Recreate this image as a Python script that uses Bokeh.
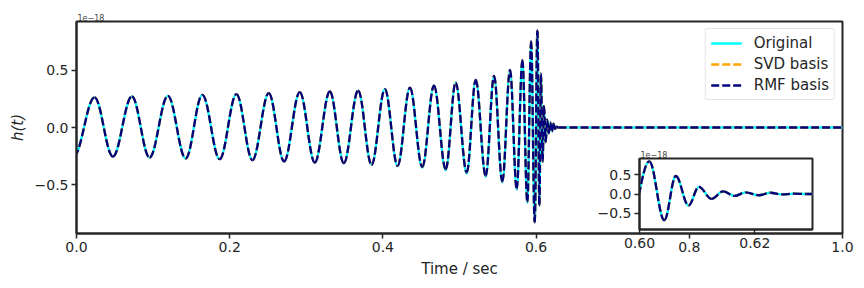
import numpy as np
from bokeh.plotting import figure
from bokeh.models import Range1d, FixedTicker, ColumnDataSource
from bokeh.embed import file_html
from bokeh.resources import INLINE

# ---- data (time in s, strain h(t) in units of 1e-18) ----
# successive extrema (peaks / troughs) of the waveform
ext_t = [-0.0035, 0.0235, 0.0475, 0.0723, 0.0954, 0.1193, 0.1425, 0.1643, 0.1869,
         0.2088, 0.2297, 0.2510, 0.2710, 0.2915, 0.3111, 0.3307, 0.3490, 0.3677,
         0.3852, 0.4026, 0.4192, 0.4353, 0.4514, 0.4667, 0.4820, 0.4950, 0.5094,
         0.5212, 0.5342, 0.5451, 0.5559, 0.5660, 0.5747, 0.5821, 0.5886, 0.5935,
         0.5982, 0.6017, 0.6043, 0.6063, 0.6085, 0.6103, 0.6125, 0.6145, 0.6165,
         0.6184, 0.6207, 0.6227, 0.6247, 0.6268, 0.6290, 1.0000]
# reconstructions (SVD basis and RMF basis coincide at this resolution)
basis_h = [-0.250, 0.263, -0.254, 0.271, -0.263, 0.277, -0.271, 0.286, -0.277,
           0.292, -0.286, 0.301, -0.297, 0.309, -0.306, 0.315, -0.312, 0.323,
           -0.326, 0.335, -0.335, 0.349, -0.344, 0.367, -0.364, 0.393, -0.393,
           0.416, -0.422, 0.451, -0.471, 0.503, -0.537, 0.589, -0.653, 0.754,
           -0.830, 0.850, -0.685, 0.470, -0.300, 0.187, -0.128, 0.069, -0.051,
           0.044, -0.033, 0.033, -0.012, 0.008, 0.000, 0.000]
svd_h = list(basis_h)
rmf_h = list(basis_h)
orig_h = [-0.250, 0.263, -0.254, 0.271, -0.263, 0.277, -0.271, 0.286, -0.277,
          0.292, -0.286, 0.301, -0.297, 0.309, -0.306, 0.315, -0.312, 0.323,
          -0.326, 0.335, -0.337, 0.349, -0.352, 0.367, -0.374, 0.393, -0.404,
          0.416, -0.432, 0.451, -0.481, 0.503, -0.545, 0.589, -0.660, 0.754,
          -0.830, 0.850, -0.685, 0.470, -0.300, 0.187, -0.128, 0.069, -0.051,
          0.044, -0.033, 0.033, -0.012, 0.008, 0.000, 0.000]

x_ticks = [0.0, 0.2, 0.4, 0.6, 0.8, 1.0]
x_tick_labels = ["0.0", "0.2", "0.4", "0.6", "0.8", "1.0"]
y_ticks = [-0.5, 0.0, 0.5]
y_tick_labels = ["\u22120.5", "0.0", "0.5"]
inset_x_ticks = [0.60, 0.62]
inset_x_tick_labels = ["0.60", "0.62"]
series_names = ["Original", "SVD basis", "RMF basis"]
scale_label = "1e\u221218"

TXT = "#262626"
K = 0.3634  # cubic-Bezier handle fraction giving a cosine-like arc between extrema


def wave_source(t, h):
    t = np.asarray(t, dtype=float)
    h = np.asarray(h, dtype=float)
    dt = np.diff(t)
    return ColumnDataSource(dict(
        x0=t[:-1], y0=h[:-1], x1=t[1:], y1=h[1:],
        cx0=t[:-1] + K * dt, cy0=h[:-1], cx1=t[1:] - K * dt, cy1=h[1:]))


def style_axes(fig, xt, xl, yt, yl):
    fig.xaxis.ticker = FixedTicker(ticks=xt)
    fig.yaxis.ticker = FixedTicker(ticks=yt)
    fig.xaxis.major_label_overrides = {v: s for v, s in zip(xt, xl)}
    fig.yaxis.major_label_overrides = {v: s for v, s in zip(yt, yl)}
    for ax in (fig.xaxis, fig.yaxis):
        ax.major_label_text_font = "DejaVu Sans"
        ax.major_label_text_font_size = "14px"
        ax.major_label_text_color = TXT
        ax.major_tick_out = 5
        ax.major_tick_in = 0
        ax.minor_tick_line_color = None
        ax.major_tick_line_color = TXT
        ax.major_tick_line_width = 1.5
        ax.axis_line_color = TXT
        ax.axis_line_width = 2
        ax.major_label_standoff = 3
    fig.grid.visible = False
    fig.outline_line_color = TXT
    fig.outline_line_width = 2
    fig.title.text = scale_label
    fig.title.align = "left"
    fig.title.text_font = "DejaVu Sans"
    fig.title.text_font_size = "8px"
    fig.title.text_font_style = "normal"
    fig.title.text_color = "#444444"
    fig.title.standoff = 2
    fig.title.offset = 1


def draw_series(fig, with_legend):
    styles = [("#00ffff", None, orig_h), ("#ffa500", "8 3", svd_h), ("#000080", "8 3", rmf_h)]
    for name, (col, dash, h) in zip(series_names, styles):
        kw = dict(line_color=col, line_width=2.3)
        if dash:
            kw["line_dash"] = dash
        if with_legend:
            kw["legend_label"] = name
        fig.bezier(x0="x0", y0="y0", x1="x1", y1="y1", cx0="cx0", cy0="cy0",
                   cx1="cx1", cy1="cy1", source=wave_source(ext_t, h), **kw)


W = 856

# ---- main figure ----
p = figure(width=W, height=280, x_range=Range1d(0.0, 1.0), y_range=Range1d(-0.927, 0.927),
           output_backend="svg", toolbar_location=None,
           min_border_left=76, min_border_right=14, min_border_top=21, min_border_bottom=45,
           background_fill_color="white", border_fill_color="white")
style_axes(p, x_ticks, x_tick_labels, y_ticks, y_tick_labels)
draw_series(p, True)
p.xaxis.axis_label = "Time / sec"
p.yaxis.axis_label = "h(t)"
for ax, st in ((p.xaxis, "normal"), (p.yaxis, "italic")):
    ax.axis_label_text_font = "DejaVu Sans"
    ax.axis_label_text_font_size = "15px"
    ax.axis_label_text_font_style = st
    ax.axis_label_text_color = TXT
    ax.axis_label_standoff = 5

lg = p.legend[0]
lg.location = "top_right"
lg.margin = 7
lg.padding = 5
lg.spacing = 3
lg.label_height = 18
lg.glyph_height = 18
lg.glyph_width = 31
lg.label_standoff = 12
lg.label_text_font = "DejaVu Sans"
lg.label_text_font_size = "15px"
lg.label_text_color = TXT
lg.border_line_color = "#cccccc"
lg.border_line_width = 1
lg.background_fill_alpha = 0.8
if "border_radius" in lg.properties():
    lg.border_radius = 3

# ---- inset figure (zoom on the merger / ringdown), transparent outside its frame ----
q = figure(width=W, height=111, x_range=Range1d(0.60, 0.63), y_range=Range1d(-0.927, 0.927),
           output_backend="svg", toolbar_location=None,
           min_border_left=639, min_border_right=44, min_border_top=14, min_border_bottom=26,
           background_fill_color="white", border_fill_color=None,
           margin=(-136, 0, 0, 0))
style_axes(q, inset_x_ticks, inset_x_tick_labels, y_ticks, y_tick_labels)
draw_series(q, False)

# two independent roots, so that the inset's frame is not aligned with the main frame
open("out.html", "w").write(file_html([p, q], INLINE))
